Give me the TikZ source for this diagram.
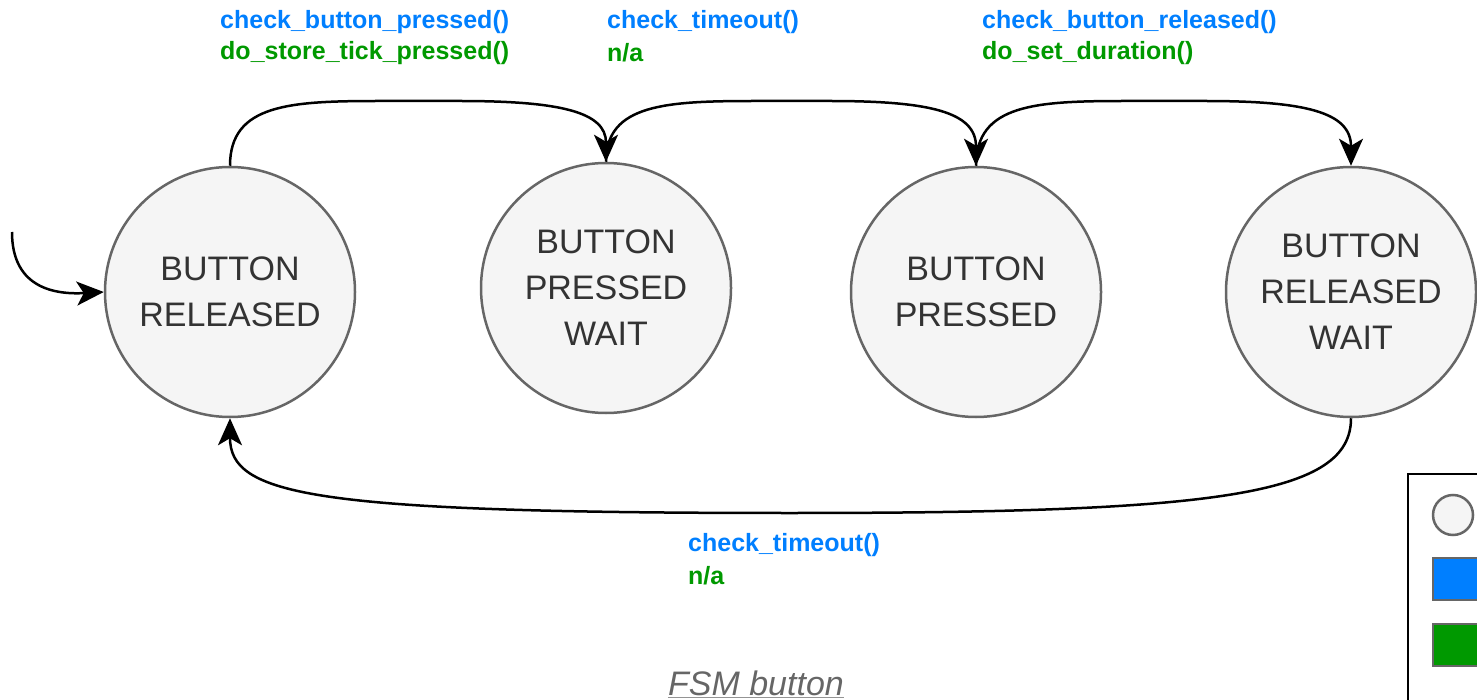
\documentclass[tikz,border=0pt]{standalone}
\usepackage{fontspec}
\setmainfont{Liberation Sans}
\usetikzlibrary{arrows.meta}
\definecolor{cblue}{HTML}{007FFF}
\definecolor{cgreen}{HTML}{009900}
\definecolor{sfill}{HTML}{F5F5F5}
\definecolor{sline}{HTML}{666666}
\definecolor{stext}{HTML}{333333}
\begin{document}
\begin{tikzpicture}[x=1pt,y=-1pt,
  state/.style={circle,draw=sline,fill=sfill,line width=2.5pt,minimum size=250pt,inner sep=0pt,
    text=stext,align=center,font=\fontsize{34}{46}\selectfont},
  edge/.style={line width=2.5pt,-{Stealth[length=27pt,width=24pt,inset=7pt]}},
  cond/.style={anchor=west,inner sep=0pt,text=cblue,font=\fontsize{25}{30}\selectfont\bfseries},
  act/.style={anchor=west,inner sep=0pt,text=cgreen,font=\fontsize{25}{30}\selectfont\bfseries},
  legbox/.style={draw=black,line width=2.5pt,fill=white},
  legitem/.style={draw=sline,line width=2.5pt}
]
\useasboundingbox (0,0) rectangle (1477,700);
\clip (0,0) rectangle (1477,700);

\node[state] (s1) at (230,292) {BUTTON\\RELEASED};
\node[state] (s2) at (606,288) {BUTTON\\PRESSED\\WAIT};
\node[state] (s3) at (976,292) {BUTTON\\PRESSED};
\node[state] (s4) at (1351,292) {BUTTON\\RELEASED\\WAIT};

\coordinate (init) at (12,232);
\draw[edge] (init) .. controls (12,285) and (50,295) .. (s1.west);

\draw[edge] (s1.north) .. controls (230,104) and (290,101) .. (380,101)
  -- (460,101) .. controls (560,101) and (606,112) .. (s2.north);
\draw[edge] (s2.north) .. controls (606,104) and (666,101) .. (756,101)
  -- (830,101) .. controls (930,101) and (976,112) .. (s3.north);
\draw[edge] (s3.north) .. controls (976,104) and (1036,101) .. (1126,101)
  -- (1205,101) .. controls (1305,101) and (1351,112) .. (s4.north);
\draw[edge] (s4.south) .. controls (1351,495) and (1220,513) .. (790,513)
  .. controls (310,513) and (230,495) .. (s1.south);

\node[cond] (l1a) at (220,22) {check\_button\_pressed()};
\node[act] (l1b) at (220,53) {do\_store\_tick\_pressed()};
\node[cond] (l2a) at (607,22) {check\_timeout()};
\node[act] (l2b) at (607,53) {n/a};
\node[cond] (l3a) at (982,22) {check\_button\_released()};
\node[act] (l3b) at (982,53) {do\_set\_duration()};
\node[cond] (l4a) at (688,545) {check\_timeout()};
\node[act] (l4b) at (688,576) {n/a};

\node[text=sline,font=\fontsize{34}{40}\selectfont\itshape,inner sep=0pt] (cap) at (756,683) {FSM button};
\draw[sline!70,line width=1.2pt] ([yshift=-2pt]cap.south west) -- ([yshift=-2pt]cap.south east);

\draw[legbox] (1408,474) rectangle (1500,720);
\node[circle,legitem,fill=sfill,minimum size=40pt,inner sep=0pt] (lg1) at (1453,515) {};
\draw[legitem,fill=cblue] (1433,558) rectangle (1500,600);
\draw[legitem,fill=cgreen] (1433,624) rectangle (1500,666);
\end{tikzpicture}
\end{document}
